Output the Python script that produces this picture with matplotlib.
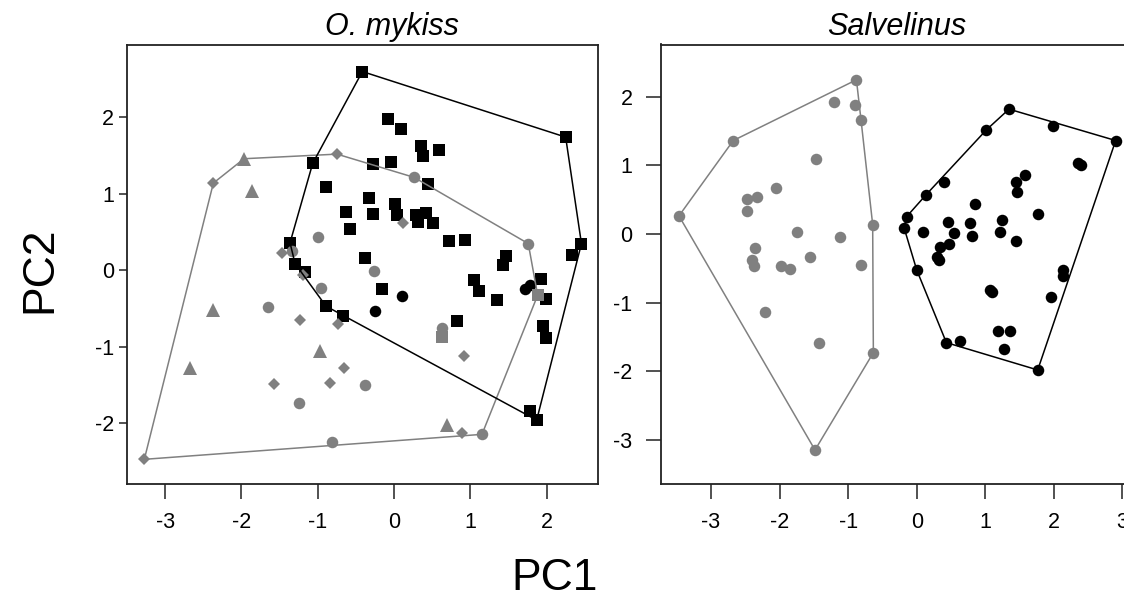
import numpy as np
import matplotlib
matplotlib.use('Agg')
import matplotlib.pyplot as plt

plt.rcParams['font.family'] = ['Liberation Sans', 'DejaVu Sans']

GRAY = '#808080'
BLACK = '#000000'

# ---------------- O. mykiss ----------------
om_black_sq_x = [-0.415, 2.250, -0.075, 0.088, 0.358, 0.376, 0.594, -1.066, -0.271, -0.039,
                 0.450, -0.887, -0.328, -0.629, -0.279, 0.009, 0.035, 0.284, 0.415, 0.311,
                 0.515, -0.573, -1.363, -1.297, -1.173, -0.380, -0.161, -0.891, -0.664, 0.721,
                 0.931, 1.464, 1.435, 2.457, 2.329, 1.051, 1.118, 1.350, 1.931, 1.992,
                 0.826, 1.957, 1.992, 1.782, 1.870]
om_black_sq_y = [2.594, 1.738, 1.969, 1.847, 1.621, 1.490, 1.565, 1.395, 1.391, 1.417,
                 1.125, 1.082, 0.948, 0.765, 0.730, 0.864, 0.726, 0.726, 0.752, 0.630,
                 0.622, 0.544, 0.359, 0.087, -0.022, 0.166, -0.239, -0.469, -0.591, 0.385,
                 0.398, 0.186, 0.065, 0.348, 0.196, -0.124, -0.267, -0.382, -0.117, -0.369,
                 -0.662, -0.726, -0.890, -1.838, -1.956]
om_black_ci_x = [0.101, -0.249, 1.717, 1.782]
om_black_ci_y = [-0.339, -0.535, -0.248, -0.196]

om_gray_ci_x = [0.262, 1.760, -0.996, -1.341, -0.258, -0.957, -1.647, -0.380, -1.245, -0.809, 0.625, 1.153]
om_gray_ci_y = [1.213, 0.348, 0.434, 0.252, -0.004, -0.226, -0.486, -1.499, -1.738, -2.239, -0.760, -2.142]
om_gray_sq_x = [1.883, 0.625]
om_gray_sq_y = [-0.326, -0.870]
om_gray_tri_x = [-1.966, -1.865, -2.368, -2.674, -0.970, 0.691]
om_gray_tri_y = [1.456, 1.030, -0.522, -1.282, -1.052, -2.021]
om_gray_dia_x = [-2.368, -0.747, 0.122, -1.472, -1.197, -1.232, -0.738, -0.651, -1.569, -0.839, 0.921, 0.891, -3.273]
om_gray_dia_y = [1.138, 1.516, 0.617, 0.226, -0.065, -0.643, -0.695, -1.282, -1.486, -1.469, -1.117, -2.121, -2.468]

# ---------------- Salvelinus ----------------
sv_gray_x = [-0.879, -1.206, -0.900, -0.812, -2.675, -1.469, -2.057, -2.470, -2.324, -2.470,
             -3.467, -0.642, -1.750, -1.119, -2.358, -2.406, -2.368, -1.979, -1.843, -1.556,
             -0.812, -2.212, -1.429, -0.632, -1.483]
sv_gray_y = [2.243, 1.923, 1.879, 1.660, 1.359, 1.088, 0.666, 0.510, 0.543, 0.331,
             0.262, 0.136, 0.034, -0.048, -0.208, -0.379, -0.462, -0.466, -0.510, -0.331,
             -0.451, -1.141, -1.583, -1.729, -3.146]
sv_black_x = [1.346, 1.983, 2.902, 1.017, 0.403, 0.140, -0.146, -0.185, 0.087, 0.461,
              0.544, 0.475, 0.340, 0.300, 0.330, 0.777, 0.802, 0.850, 1.240, 1.215,
              1.444, 1.448, 1.579, 1.458, 1.765, 2.357, 2.392, 0.000, 2.138, 2.138,
              1.959, 1.069, 1.094, 1.191, 1.361, 1.269, 0.433, 0.632, 1.765]
sv_black_y = [1.816, 1.573, 1.359, 1.515, 0.753, 0.573, 0.252, 0.092, 0.034, 0.170,
              0.019, -0.150, -0.194, -0.339, -0.380, 0.156, -0.029, 0.437, 0.200, 0.025,
              -0.106, 0.762, 0.859, 0.616, 0.287, 1.038, 1.005, -0.524, -0.524, -0.612,
              -0.913, -0.816, -0.850, -1.408, -1.408, -1.679, -1.583, -1.554, -1.981]

left_xticks = [-3, -2, -1, 0, 1, 2]
left_yticks = [-2, -1, 0, 1, 2]
right_xticks = [-3, -2, -1, 0, 1, 2, 3]
right_yticks = [-3, -2, -1, 0, 1, 2]


def convex_hull(xs, ys):
    pts = sorted(set(zip(xs, ys)))

    def cross(o, a, b):
        return (a[0] - o[0]) * (b[1] - o[1]) - (a[1] - o[1]) * (b[0] - o[0])

    lower = []
    for p in pts:
        while len(lower) >= 2 and cross(lower[-2], lower[-1], p) <= 0:
            lower.pop()
        lower.append(p)
    upper = []
    for p in reversed(pts):
        while len(upper) >= 2 and cross(upper[-2], upper[-1], p) <= 0:
            upper.pop()
        upper.append(p)
    h = lower[:-1] + upper[:-1]
    h.append(h[0])
    hx, hy = zip(*h)
    return list(hx), list(hy)


W, H = 1124, 606
fig = plt.figure(figsize=(W / 100, H / 100), dpi=100)
ax1 = fig.add_axes([127 / W, (H - 484) / H, 471 / W, 439.5 / H])
ax2 = fig.add_axes([661 / W, (H - 484) / H, 471 / W, 439.5 / H])

MS_CI = 8.3
MS_SQ = 8.2
MS_TRI = 10
MS_DIA = 6.0
LW = 1.1

# left panel
ax1.plot(om_black_sq_x, om_black_sq_y, 's', color=BLACK, ms=MS_SQ, mew=0, zorder=3)
ax1.plot(om_black_ci_x, om_black_ci_y, 'o', color=BLACK, ms=MS_CI, mew=0, zorder=3)
ax1.plot(om_gray_ci_x, om_gray_ci_y, 'o', color=GRAY, ms=MS_CI, mew=0, zorder=3)
ax1.plot(om_gray_sq_x, om_gray_sq_y, 's', color=GRAY, ms=MS_SQ, mew=0, zorder=3)
ax1.plot(om_gray_tri_x, om_gray_tri_y, '^', color=GRAY, ms=MS_TRI, mew=0, zorder=3)
ax1.plot(om_gray_dia_x, om_gray_dia_y, 'D', color=GRAY, ms=MS_DIA, mew=0, zorder=3)

gx = om_gray_ci_x + om_gray_sq_x + om_gray_tri_x + om_gray_dia_x
gy = om_gray_ci_y + om_gray_sq_y + om_gray_tri_y + om_gray_dia_y
hx, hy = convex_hull(gx, gy)
ax1.plot(hx, hy, '-', color=GRAY, lw=LW, zorder=4)
bx = om_black_sq_x + om_black_ci_x
by = om_black_sq_y + om_black_ci_y
hx, hy = convex_hull(bx, by)
ax1.plot(hx, hy, '-', color=BLACK, lw=LW, zorder=4)

ax1.set_xlim(-3.50, 2.674)
ax1.set_ylim(-2.79, 2.947)
ax1.set_xticks(left_xticks)
ax1.set_yticks(left_yticks)

# right panel
ax2.plot(sv_gray_x, sv_gray_y, 'o', color=GRAY, ms=MS_CI, mew=0, zorder=3)
ax2.plot(sv_black_x, sv_black_y, 'o', color=BLACK, ms=MS_CI, mew=0, zorder=3)
hx, hy = convex_hull(sv_gray_x, sv_gray_y)
ax2.plot(hx, hy, '-', color=GRAY, lw=LW, zorder=4)
hx, hy = convex_hull(sv_black_x, sv_black_y)
ax2.plot(hx, hy, '-', color=BLACK, lw=LW, zorder=4)

ax2.set_xlim(-3.729, 3.14)
ax2.set_ylim(-3.641, 2.757)
ax2.set_xticks(right_xticks)
ax2.set_yticks(right_yticks)

for ax in (ax1, ax2):
    for s in ax.spines.values():
        s.set_linewidth(1.3)
        s.set_color('#222222')
    ax.tick_params(direction='out', length=10.5, width=1.1, labelsize=15.5, pad=10,
                   color='#222222')
    ax.set_xticklabels([str(t) for t in ax.get_xticks().astype(int)])
    ax.set_yticklabels([str(t) for t in ax.get_yticks().astype(int)])

# left panel y axis sits closer to its labels in the reference
ax1.tick_params(axis='y', length=6, pad=3.5)

# panel titles
fig.text(392 / W, 1 - 27 / H, 'O. mykiss', fontsize=22, style='italic', ha='center', va='center')
fig.text(897 / W, 1 - 27 / H, 'Salvelinus', fontsize=22, style='italic', ha='center', va='center')

fig.text(40 / W, 1 - 270 / H, 'PC2', fontsize=32, rotation=90, ha='center', va='center')
fig.text(555 / W, 1 - 578 / H, 'PC1', fontsize=32, ha='center', va='center')

fig.savefig('out.png', dpi=100)
